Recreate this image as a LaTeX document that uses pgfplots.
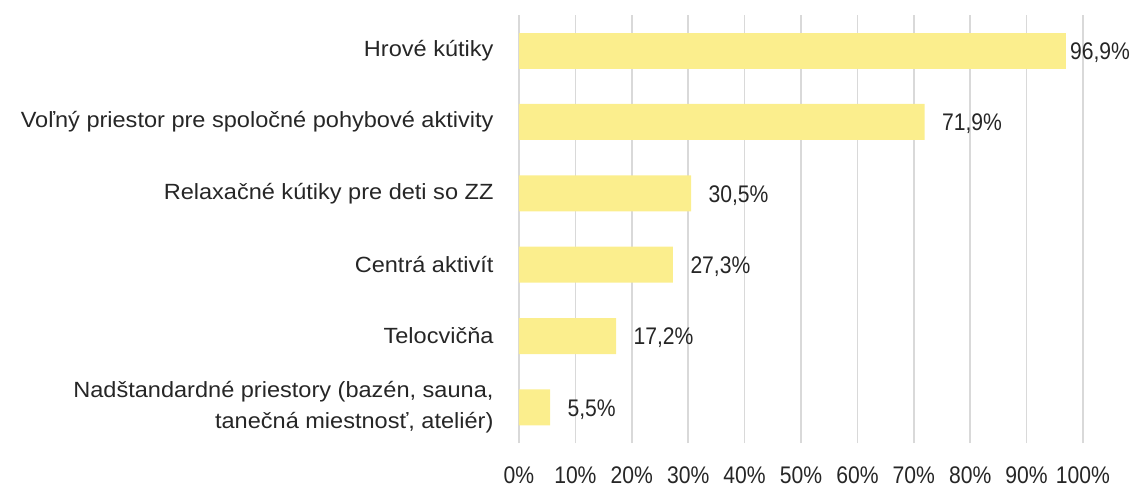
\documentclass[border=0pt]{standalone}
\usepackage{pgfplots}
\pgfplotsset{compat=1.18}
\usepackage{fontspec}
\setmainfont{Liberation Sans}[FakeStretch=1.07]
\newfontfamily\numfont{Liberation Sans}[FakeStretch=0.88]
\definecolor{barc}{HTML}{FBEE8D}
\definecolor{gridc}{HTML}{D9D9D9}
\definecolor{txt}{HTML}{262626}
\begin{document}
\fontsize{22}{30}\selectfont
\begin{tikzpicture}
\begin{axis}[
  name=ax,
  scale only axis,
  width=564pt, height=428pt,
  xbar, bar width=36pt, bar shift=0pt,
  xmin=0, xmax=100, ymin=-0.5, ymax=5.5,
  xtick={0,10,...,100},
  xticklabel={\pgfmathprintnumber{\tick}\%},
  ytick={0,1,2,3,4,5},
  yticklabels={{Nadštandardné priestory (bazén, sauna,\\tanečná miestnosť, ateliér)},Telocvičňa,Centrá aktivít,{Relaxačné kútiky pre deti so ZZ},{Voľný priestor pre spoločné pohybové aktivity},Hrové kútiky},
  yticklabel style={align=right, font=\fontsize{22}{31}\selectfont, text=txt, xshift=-18pt},
  xticklabel style={font=\numfont\fontsize{24}{28}\selectfont, text=txt, inner sep=0pt, text depth=0pt, anchor=north, yshift=-24pt},
  /pgf/number format/assume math mode=true,
  xmajorgrids, grid style={gridc, line width=1.5pt},
  axis line style={draw=none},
  major tick length=0pt,
  nodes near coords={\pgfmathprintnumber[fixed, precision=1, fixed zerofill, use comma]{\pgfplotspointmeta}\%},
  nodes near coords style={font=\numfont\fontsize{24}{28}\selectfont, text=txt, anchor=west, yshift=-2pt},
  point meta=explicit,
  clip=false,
]
\addplot[fill=barc, draw=none, nodes near coords style={xshift=10pt}] coordinates {
  (5.5,0) [5.5]
  (17.2,1) [17.2]
  (27.3,2) [27.3]
  (30.5,3) [30.5]
  (71.9,4) [71.9]
};
\addplot[fill=barc, draw=none, nodes near coords style={xshift=-3pt}] coordinates {
  (96.9,5) [96.9]
};
\end{axis}
\pgfresetboundingbox
\path ([xshift=-519pt,yshift=-45pt]ax.south west) rectangle ([xshift=615pt,yshift=443pt]ax.south west);
\end{tikzpicture}
\end{document}
